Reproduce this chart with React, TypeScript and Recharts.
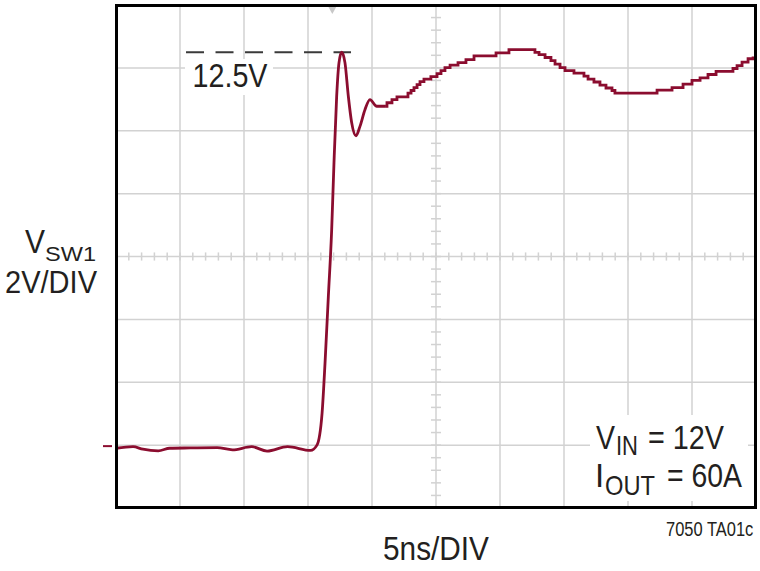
import React from "react";
import { LineChart, Line, XAxis, YAxis, CartesianGrid, ReferenceLine, ReferenceDot } from "recharts";

// time axis in ns (5ns/DIV), voltage in V (2V/DIV)
const xTicks = [0, 5, 10, 15, 20, 25, 30, 35, 40, 45, 50];
const yTicks = [-2, 0, 2, 4, 6, 8, 10, 12, 14];

// minor ticks on the centre cross
const minorX = Array.from({ length: 51 }, (_, i) => i);
const minorY = Array.from({ length: 41 }, (_, i) => -2 + i * 0.4);

// smooth part: flat ground, fast edge and ringing
const edgeTime = [0, 1.33, 2.1, 3.3, 4.2, 5.8, 7.9, 9.1, 10.6, 11.8, 13.4, 15.2, 15.7, 16.1, 16.33, 16.59, 16.85, 17.03, 17.24, 17.42, 17.63, 17.89, 18.15, 18.41, 18.75, 19.06, 19.45, 19.84, 20.37, 21.02];
const edgeVolts = [-0.1, -0.05, -0.13, -0.18, -0.1, -0.09, -0.08, -0.15, -0.05, -0.19, -0.05, -0.17, 0.0, 1.02, 2.61, 4.73, 6.85, 8.98, 11.1, 12.16, 12.5, 12.16, 11.1, 10.26, 9.84, 10.14, 10.67, 10.99, 10.78, 10.78];

// quantised (stepped) part of the trace
const stepTime = [21.02, 21.17, 21.56, 21.95, 22.81, 23.05, 23.28, 23.52, 23.75, 24.06, 24.6, 25.08, 25.39, 25.7, 26.1, 26.72, 27.34, 27.97, 29.69, 30.7, 32.73, 33.05, 33.52, 33.98, 34.3, 34.69, 35.08, 35.78, 36.56, 36.88, 37.34, 37.81, 38.28, 38.75, 38.98, 42.27, 43.44, 44.3, 45.0, 45.63, 46.25, 46.88, 48.2, 48.52, 48.91, 49.38, 49.77, 50];
const stepVolts = [10.78, 10.89, 10.99, 11.08, 11.2, 11.28, 11.37, 11.47, 11.56, 11.64, 11.72, 11.82, 11.91, 12.01, 12.09, 12.17, 12.26, 12.38, 12.48, 12.58, 12.49, 12.42, 12.33, 12.23, 12.12, 12.01, 11.91, 11.83, 11.74, 11.64, 11.55, 11.45, 11.36, 11.28, 11.2, 11.29, 11.37, 11.48, 11.6, 11.68, 11.79, 11.89, 11.98, 12.07, 12.18, 12.29, 12.32, 12.32];

const peakLevel = 12.5;
const triggerTime = 16.9;

const edgeData = edgeTime.map((t, i) => ({ t, v: edgeVolts[i] }));
const stepData = stepTime.map((t, i) => ({ t, v: stepVolts[i] }));

const TRACE = "#8b0d2f";
const GRID = "#d2d2d2";
const INK = "#231f20";
const FONT = "'Liberation Sans', Arial, sans-serif";

const App = () => {
  return (
    <div style={{ position: "absolute", left: 0, top: 0, width: 760, height: 571, background: "#fff" }}>
      <LineChart width={760} height={571} margin={{ top: 5, right: 4, bottom: 63, left: 116 }}>
        <XAxis type="number" dataKey="t" domain={[0, 50]} ticks={xTicks} hide allowDataOverflow />
        <YAxis type="number" domain={[-2, 14]} ticks={yTicks} hide allowDataOverflow />
        <CartesianGrid stroke={GRID} strokeWidth={1.5} />
        {minorX.map((t) => (
          <ReferenceLine key={"mx" + t} segment={[{ x: t, y: 6 - 0.13 }, { x: t, y: 6 + 0.13 }]} stroke={GRID} strokeWidth={1.5} />
        ))}
        {minorY.map((v) => (
          <ReferenceLine key={"my" + v} segment={[{ x: 25 - 0.39, y: v }, { x: 25 + 0.39, y: v }]} stroke={GRID} strokeWidth={1.5} />
        ))}
        <ReferenceLine
          segment={[{ x: 5.47, y: peakLevel }, { x: 18.36, y: peakLevel }]}
          stroke="#3a3a3a"
          strokeWidth={2}
          strokeDasharray="18 11.5"
        />
        <ReferenceDot
          x={triggerTime}
          y={14}
          r={0}
          shape={(p: any) => (
            <polygon points={`${p.cx - 5},${p.cy} ${p.cx + 5},${p.cy} ${p.cx},${p.cy + 9}`} fill="#c8c8c8" />
          )}
        />
        <ReferenceDot
          x={0}
          y={0}
          r={0}
          shape={(p: any) => (
            <line x1={p.cx - 13} y1={p.cy + 1} x2={p.cx - 4} y2={p.cy + 1} stroke={TRACE} strokeWidth={2} />
          )}
        />
        <Line data={edgeData} dataKey="v" type="monotone" stroke={TRACE} strokeWidth={2.8} dot={false} isAnimationActive={false} />
        <Line data={stepData} dataKey="v" type="stepAfter" stroke={TRACE} strokeWidth={2.8} dot={false} isAnimationActive={false} />
      </LineChart>

      <svg width={760} height={571} style={{ position: "absolute", left: 0, top: 0, pointerEvents: "none" }}>
        <rect x={185} y={59} width={88} height={36} fill="#fff" />
        <rect x={590} y={415} width={158} height={86} fill="#fff" />
        <rect x={116.5} y={5.5} width={639} height={502} fill="none" stroke="#000" strokeWidth={3} />
        <g fill={INK} fontFamily={FONT}>
          <text x={192.5} y={86.7} fontSize={33} textLength={75} lengthAdjust="spacingAndGlyphs">12.5V</text>

          <text x={25} y={253} fontSize={33} textLength={20} lengthAdjust="spacingAndGlyphs">V</text>
          <text x={45} y={261} fontSize={21} textLength={51} lengthAdjust="spacingAndGlyphs">SW1</text>
          <text x={5} y={293} fontSize={32} textLength={92} lengthAdjust="spacingAndGlyphs">2V/DIV</text>

          <text x={596} y={449} fontSize={33} textLength={19} lengthAdjust="spacingAndGlyphs">V</text>
          <text x={616} y={455} fontSize={27.5} textLength={22} lengthAdjust="spacingAndGlyphs">IN</text>
          <text x={648} y={449} fontSize={33} textLength={76} lengthAdjust="spacingAndGlyphs">= 12V</text>

          <text x={595} y={487} fontSize={33}>I</text>
          <text x={605} y={495} fontSize={27.5} textLength={50} lengthAdjust="spacingAndGlyphs">OUT</text>
          <text x={667} y={487} fontSize={33} textLength={75} lengthAdjust="spacingAndGlyphs">= 60A</text>

          <text x={383} y={560} fontSize={34} textLength={106} lengthAdjust="spacingAndGlyphs">5ns/DIV</text>
          <text transform="translate(666,536) scale(0.845,1)" fontSize={19.5}>7050 TA01c</text>
        </g>
      </svg>
    </div>
  );
};

export default App;
